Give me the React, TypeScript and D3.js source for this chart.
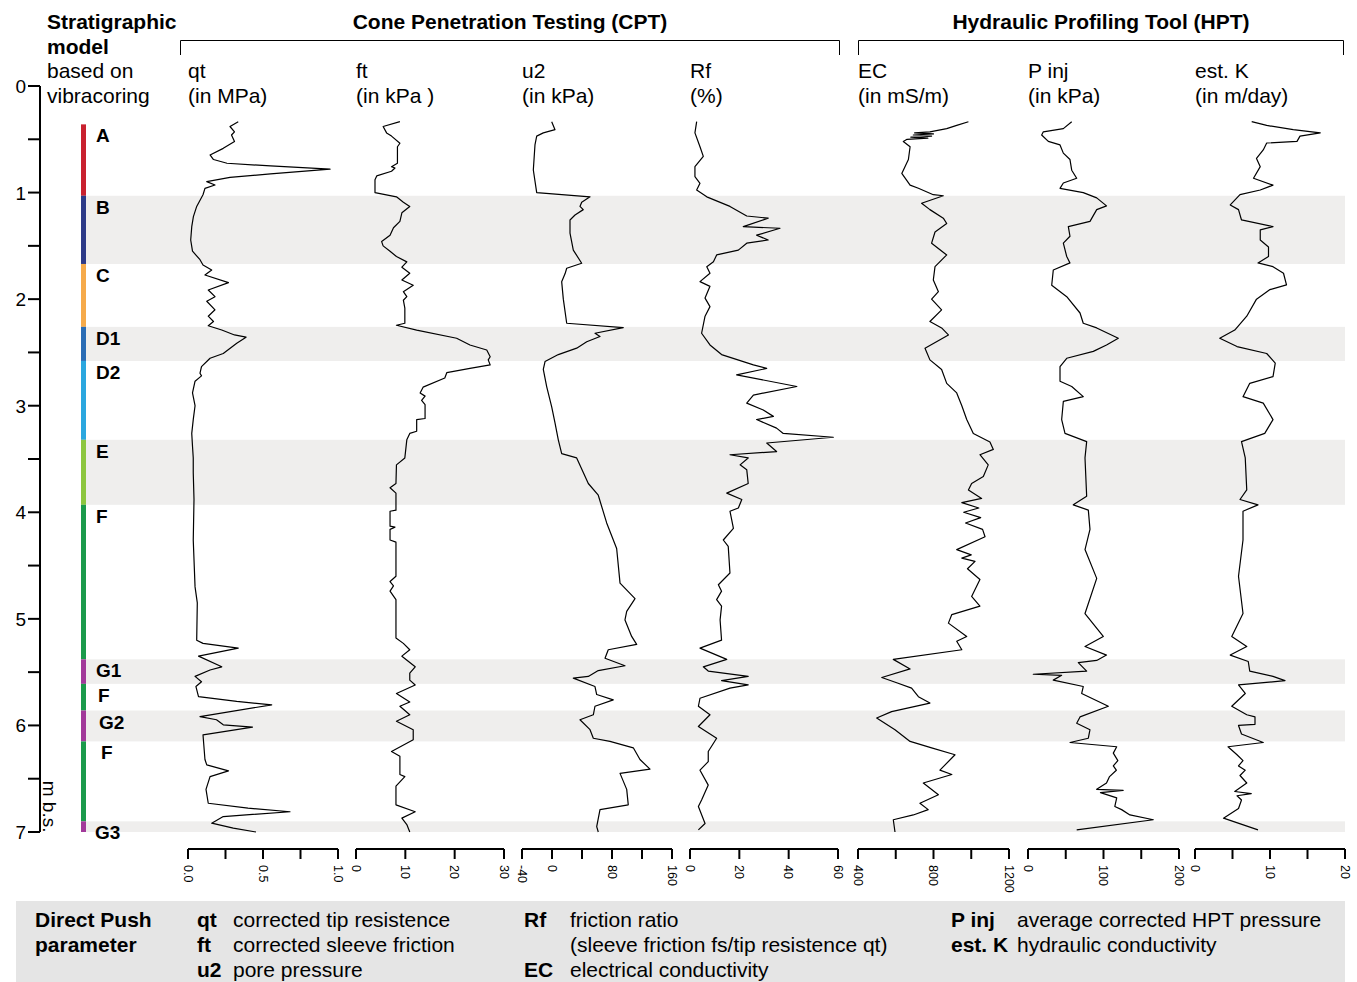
import React from 'react';
import * as d3 from 'd3';

const FONT = '"Liberation Sans", Arial, Helvetica, sans-serif';

// stratigraphic model (depth in m b.s.)
const unitNames = ['A', 'B', 'C', 'D1', 'D2', 'E', 'F', 'G1', 'F', 'G2', 'F', 'G3'];
const unitTops = [0.36, 1.03, 1.67, 2.26, 2.58, 3.32, 3.93, 5.38, 5.61, 5.86, 6.15, 6.9];
const unitBases = [1.03, 1.67, 2.26, 2.58, 3.32, 3.93, 5.38, 5.61, 5.86, 6.15, 6.9, 7.0];
const unitColors = ['#c9212f', '#2d3a88', '#f6aa4a', '#2a6cb5', '#2ba7df', '#8dc63f', '#1b9a4b', '#a2399a', '#1b9a4b', '#a2399a', '#1b9a4b', '#a2399a'];

// grey shaded layers
const bandTops = [1.03, 2.26, 3.32, 5.38, 5.86, 6.9];
const bandBases = [1.67, 2.58, 3.93, 5.61, 6.15, 7.0];

const depthTicks = [0, 0.5, 1, 1.5, 2, 2.5, 3, 3.5, 4, 4.5, 5, 5.5, 6, 6.5, 7];

// panels
const panelNames = ['qt', 'ft', 'u2', 'Rf', 'EC', 'P inj', 'est. K'];
const panelUnits = ['(in MPa)', '(in kPa )', '(in kPa)', '(%)', '(in mS/m)', '(in kPa)', '(in m/day)'];
const panelDomains = [[0, 1], [0, 30], [-40, 160], [0, 60], [400, 1200], [0, 200], [0, 20]];
const panelTicks = [
  [0, 0.25, 0.5, 0.75, 1],
  [0, 10, 20, 30],
  [-40, 0, 40, 80, 120, 160],
  [0, 20, 40, 60],
  [400, 600, 800, 1000, 1200],
  [0, 50, 100, 150, 200],
  [0, 5, 10, 15, 20],
];
const panelTickLabels = [
  ['0.0', '', '0.5', '', '1.0'],
  ['0', '10', '20', '30'],
  ['-40', '0', '', '80', '', '160'],
  ['0', '20', '40', '60'],
  ['400', '', '800', '', '1200'],
  ['0', '', '100', '', '200'],
  ['0', '', '10', '', '20'],
];

// [depth, value]
const qt = [
  [0.335, 0.335], [0.38, 0.28], [0.43, 0.31], [0.46, 0.29], [0.52, 0.31], [0.585, 0.235], [0.647, 0.147],
  [0.69, 0.17], [0.725, 0.26], [0.75, 0.55], [0.78, 0.947], [0.825, 0.55], [0.857, 0.28], [0.897, 0.125],
  [0.929, 0.18], [0.96, 0.113], [1.02, 0.1], [1.13, 0.058], [1.226, 0.036], [1.32, 0.025], [1.445, 0.018],
  [1.55, 0.03], [1.63, 0.08], [1.68, 0.1], [1.726, 0.158], [1.773, 0.113], [1.845, 0.27], [1.914, 0.135],
  [1.977, 0.18], [2.02, 0.125], [2.1, 0.18], [2.16, 0.135], [2.21, 0.17], [2.25, 0.135], [2.29, 0.225],
  [2.336, 0.31], [2.357, 0.387], [2.414, 0.325], [2.51, 0.235], [2.555, 0.147], [2.633, 0.09], [2.695, 0.08],
  [2.72, 0.09], [2.77, 0.047], [2.88, 0.03], [3.0, 0.047], [3.13, 0.035], [3.26, 0.025], [3.38, 0.03],
  [3.49, 0.035], [3.63, 0.035], [3.88, 0.04], [4.26, 0.035], [4.7, 0.047], [4.85, 0.062], [5.2, 0.058],
  [5.23, 0.1], [5.275, 0.335], [5.35, 0.07], [5.45, 0.225], [5.48, 0.147], [5.54, 0.047], [5.59, 0.09],
  [5.635, 0.053], [5.73, 0.07], [5.775, 0.325], [5.807, 0.558], [5.917, 0.08], [5.947, 0.19], [5.994, 0.235],
  [6.016, 0.43], [6.088, 0.1], [6.32, 0.113], [6.37, 0.125], [6.426, 0.27], [6.48, 0.147], [6.6, 0.12],
  [6.73, 0.135], [6.776, 0.4], [6.81, 0.68], [6.855, 0.235], [6.917, 0.158], [6.964, 0.302], [7.0, 0.453],
];

const ft = [
  [0.335, 8.9], [0.38, 5.5], [0.44, 6.2], [0.47, 7.2], [0.537, 8.9], [0.57, 8.4], [0.725, 8.4], [0.757, 7.2],
  [0.77, 7.9], [0.8, 7.2], [0.844, 4.2], [0.88, 3.85], [1.0, 3.85], [1.04, 8.2], [1.09, 9.6], [1.13, 10.9],
  [1.19, 9.3], [1.27, 8.9], [1.33, 7.6], [1.4, 6.9], [1.46, 5.2], [1.5, 5.5], [1.55, 6.9], [1.6, 8.2],
  [1.65, 10.3], [1.7, 9.3], [1.757, 10.9], [1.82, 9.3], [1.87, 11.6], [1.93, 9.6], [1.977, 10.3], [2.01, 9.6],
  [2.085, 9.9], [2.226, 9.9], [2.245, 8.2], [2.29, 12.3], [2.367, 20.4], [2.43, 23.1], [2.477, 26.5],
  [2.54, 27.2], [2.57, 26.8], [2.617, 27.2], [2.65, 23.1], [2.69, 18.4], [2.74, 18.0], [2.826, 13.6],
  [2.88, 13.0], [2.91, 14.0], [2.95, 13.3], [2.99, 14.0], [3.12, 14.0], [3.13, 12.3], [3.24, 12.3],
  [3.26, 10.9], [3.32, 10.3], [3.49, 9.9], [3.555, 8.2], [3.73, 8.1], [3.77, 6.9], [3.82, 8.1], [3.98, 8.1],
  [3.99, 6.9], [4.13, 6.9], [4.14, 7.9], [4.16, 6.9], [4.26, 6.9], [4.28, 8.1], [4.6, 8.1], [4.65, 6.9],
  [4.69, 7.6], [4.74, 6.9], [4.82, 8.1], [5.18, 8.1], [5.23, 9.6], [5.29, 10.9], [5.35, 9.3], [5.45, 12.0],
  [5.51, 10.9], [5.575, 10.9], [5.62, 12.0], [5.7, 8.2], [5.78, 10.9], [5.82, 8.9], [5.9, 10.9], [5.96, 8.2],
  [6.04, 11.6], [6.135, 11.6], [6.245, 7.2], [6.29, 8.9], [6.46, 8.9], [6.48, 9.9], [6.57, 8.1], [6.745, 8.1],
  [6.81, 12.0], [6.87, 9.3], [6.93, 10.3], [7.0, 10.9],
];

const u2 = [
  [0.335, -0.4], [0.41, 4], [0.44, -11.6], [0.47, -20.4], [0.553, -22.7], [0.788, -24.9], [1.0, -20.4],
  [1.04, 50.7], [1.09, 39.6], [1.13, 37.3], [1.16, 41.7], [1.21, 30.7], [1.257, 24], [1.38, 24], [1.54, 28.4],
  [1.663, 39.6], [1.71, 19.6], [1.76, 17.5], [1.836, 12.9], [2.0, 15.1], [2.226, 19.6], [2.267, 95],
  [2.32, 57.3], [2.35, 64], [2.4, 46.3], [2.46, 32.9], [2.52, 8.4], [2.586, -9.3], [2.66, -11.6],
  [2.82, -7.1], [3.01, -0.4], [3.16, 4], [3.32, 8.4], [3.45, 12.9], [3.49, 32.9], [3.73, 48.4],
  [3.84, 61.7], [4.1, 72.9], [4.34, 86.2], [4.665, 90.7], [4.81, 110.7], [4.93, 99.6], [5.01, 97.3],
  [5.165, 106.2], [5.24, 112.9], [5.29, 75], [5.37, 70.7], [5.44, 97.3], [5.485, 61.7], [5.54, 48.4],
  [5.556, 28.4], [5.635, 57.3], [5.71, 59.6], [5.76, 81.7], [5.82, 57.3], [5.9, 55.1], [5.947, 37.3],
  [6.04, 50.7], [6.12, 55.1], [6.15, 77.3], [6.21, 108.4], [6.32, 117.3], [6.41, 130.7], [6.45, 90.7],
  [6.6, 99.6], [6.745, 101.7], [6.79, 64], [6.95, 59.6], [7.0, 61.7],
];

const rf = [
  [0.335, 2.7], [0.44, 2.0], [0.57, 4.05], [0.66, 5.4], [0.757, 2.0], [0.85, 2.0], [0.913, 4.05], [0.976, 2.7],
  [1.04, 6.8], [1.13, 16.2], [1.22, 23], [1.24, 31.7], [1.32, 21.6], [1.335, 36.5], [1.4, 27], [1.445, 31.7],
  [1.475, 23], [1.54, 19.6], [1.585, 10.8], [1.65, 9.5], [1.695, 6.8], [1.757, 8.1], [1.836, 4.05],
  [1.88, 8.1], [1.99, 6.1], [2.07, 8.1], [2.16, 6.1], [2.32, 4.7], [2.43, 8.1], [2.52, 12.8], [2.617, 25.7],
  [2.65, 31.1], [2.71, 18.9], [2.82, 43.3], [2.9, 25.7], [2.976, 23], [3.04, 29.7], [3.1, 33.8], [3.13, 27],
  [3.21, 35.1], [3.26, 37.8], [3.296, 58.1], [3.35, 31.1], [3.43, 35.1], [3.46, 16.2], [3.49, 23.6],
  [3.555, 20.3], [3.6, 23], [3.73, 23.6], [3.82, 14.9], [3.88, 21], [3.96, 19.6], [3.99, 16.2], [4.15, 17.6],
  [4.26, 13.5], [4.32, 15.5], [4.57, 16.2], [4.68, 11.5], [4.74, 12.8], [4.82, 10.8], [4.88, 12.8],
  [5.01, 12.2], [5.2, 12.8], [5.275, 4.05], [5.38, 14.9], [5.45, 5.4], [5.49, 7.4], [5.54, 23.6], [5.58, 12.8],
  [5.62, 23.6], [5.65, 16.2], [5.745, 4.05], [5.82, 3.4], [5.9, 8.1], [6.01, 3.4], [6.12, 10.8], [6.245, 7.4],
  [6.34, 7.4], [6.42, 4.05], [6.56, 7.4], [6.7, 4.7], [6.76, 3.4], [6.92, 6.1], [6.98, 3.4],
];

const ec = [
  [0.335, 985], [0.37, 923], [0.4, 870], [0.43, 781], [0.44, 700], [0.45, 800], [0.46, 693], [0.47, 790],
  [0.48, 680], [0.49, 770], [0.5, 660], [0.52, 640], [0.57, 676], [0.69, 667], [0.82, 632], [0.93, 676],
  [0.96, 720], [1.02, 799], [1.03, 852], [1.1, 737], [1.16, 781], [1.24, 852], [1.29, 870], [1.37, 808],
  [1.475, 790], [1.585, 870], [1.695, 808], [1.82, 799], [1.93, 826], [2.0, 790], [2.1, 843], [2.21, 781],
  [2.27, 843], [2.336, 879], [2.46, 755], [2.57, 781], [2.66, 843], [2.79, 870], [2.88, 923], [3.0, 950],
  [3.13, 976], [3.26, 1011], [3.34, 1099], [3.41, 1117], [3.46, 1046], [3.555, 1090], [3.665, 1064],
  [3.73, 1002], [3.79, 985], [3.87, 1055], [3.91, 950], [3.96, 1040], [4.0, 960], [4.05, 1050], [4.1, 970],
  [4.16, 1060], [4.23, 1073], [4.35, 923], [4.4, 1000], [4.43, 950], [4.46, 1020], [4.53, 980], [4.63, 1046],
  [4.79, 1002], [4.88, 1046], [4.96, 897], [5.04, 879], [5.165, 976], [5.21, 923], [5.29, 950], [5.38, 587],
  [5.47, 676], [5.55, 526], [5.6, 605], [5.65, 684], [5.73, 720], [5.79, 781], [5.87, 578], [5.93, 499],
  [6.04, 596], [6.15, 676], [6.21, 790], [6.275, 914], [6.42, 834], [6.46, 897], [6.54, 746], [6.65, 826],
  [6.73, 728], [6.79, 772], [6.84, 693], [6.885, 587], [7.0, 596],
];

const pinj = [
  [0.335, 57.9], [0.4, 46.8], [0.43, 20.3], [0.46, 18.1], [0.52, 26.9], [0.553, 42.4], [0.63, 46.8],
  [0.69, 55.6], [0.79, 57.9], [0.866, 64.5], [0.91, 46.8], [0.96, 42.4], [1.0, 73.2], [1.05, 91],
  [1.125, 104], [1.16, 91], [1.27, 82.1], [1.32, 53.4], [1.41, 55.6], [1.475, 46.8], [1.6, 51.3],
  [1.66, 55.6], [1.726, 33.5], [1.87, 31.4], [1.977, 51.3], [2.13, 68.9], [2.226, 73.2], [2.27, 91],
  [2.367, 119.6], [2.43, 104], [2.49, 86.5], [2.555, 51.3], [2.633, 42.4], [2.77, 42.4], [2.82, 57.9],
  [2.915, 73.2], [2.96, 46.8], [3.13, 44.6], [3.26, 49], [3.337, 77.7], [3.49, 75.5], [3.85, 77.7],
  [3.93, 60], [3.98, 79.9], [4.16, 82.1], [4.35, 75.5], [4.62, 91], [4.95, 75.5], [5.165, 99.7],
  [5.26, 75.5], [5.34, 104], [5.39, 91], [5.41, 66.6], [5.49, 77.7], [5.52, 7], [5.53, 44.6], [5.575, 33.5],
  [5.635, 73.2], [5.7, 71.1], [5.82, 106.4], [5.92, 68.9], [5.98, 64.5], [6.04, 82.1], [6.12, 79.9],
  [6.16, 55.6], [6.2, 117.5], [6.26, 113], [6.33, 119], [6.38, 113], [6.42, 117], [6.48, 108], [6.54, 104],
  [6.6, 91], [6.61, 126], [6.63, 96], [6.68, 117.5], [6.76, 115], [6.79, 124], [6.84, 135], [6.885, 166],
  [6.98, 64.5],
];

const estK = [
  [0.335, 7.56], [0.37, 9.56], [0.41, 13.1], [0.44, 16.7], [0.47, 14], [0.52, 13.6], [0.535, 9.56], [0.6, 9.1],
  [0.68, 8.2], [0.757, 8.7], [0.866, 7.8], [0.93, 10.4], [0.976, 8.7], [1.02, 6.0], [1.116, 4.7], [1.16, 5.8],
  [1.257, 6.2], [1.32, 10.4], [1.35, 8.7], [1.445, 8.7], [1.51, 9.8], [1.6, 9.8], [1.66, 8.4], [1.695, 10.4],
  [1.757, 11.8], [1.866, 12.2], [1.91, 10], [2.0, 8.2], [2.16, 6.9], [2.29, 5.3], [2.367, 3.3], [2.445, 5.6],
  [2.51, 9.56], [2.6, 10.7], [2.727, 10.4], [2.79, 7.3], [2.915, 6.4], [2.976, 9.1], [3.13, 10.4],
  [3.26, 9.3], [3.337, 6.2], [3.49, 6.7], [3.79, 6.9], [3.88, 6.0], [3.93, 8.4], [3.99, 6.4], [4.26, 6.4],
  [4.6, 5.8], [4.95, 6.4], [5.165, 4.9], [5.26, 6.9], [5.34, 4.7], [5.4, 7.1], [5.49, 7.3], [5.54, 10.4],
  [5.58, 12.0], [5.62, 5.8], [5.7, 6.7], [5.82, 4.9], [5.9, 6.9], [5.92, 8.0], [5.99, 8.0], [6.0, 5.8],
  [6.08, 6.2], [6.16, 9.1], [6.2, 4.4], [6.275, 5.6], [6.33, 6.4], [6.38, 5.8], [6.42, 6.7], [6.47, 6.0],
  [6.54, 6.9], [6.62, 5.3], [6.64, 7.5], [6.66, 5.6], [6.7, 6.2], [6.78, 5.8], [6.87, 3.8], [6.98, 8.4],
];

const series = [qt, ft, u2, rf, ec, pinj, estK];

// layout
const panelLeft = [188, 356, 522, 690, 858, 1028, 1195];
const panelRight = [338, 504, 672, 838, 1009, 1179, 1345];
const unitLabelX = [96, 96, 96, 96, 96, 96, 96, 96, 98, 99, 101, 95];
const axisY = 849;

const legendCols = [
  { x: 197, tx: 233, rows: [['qt', 'corrected tip resistence'], ['ft', 'corrected sleeve friction'], ['u2', 'pore pressure']] },
  { x: 524, tx: 570, rows: [['Rf', 'friction ratio'], ['', '(sleeve friction fs/tip resistence qt)'], ['EC', 'electrical conductivity']] },
  { x: 951, tx: 1017, rows: [['P inj', 'average corrected HPT pressure'], ['est. K', 'hydraulic conductivity']] },
];

export default function App() {
  const y = d3.scaleLinear().domain([0, 7]).range([86, 832]);
  const fs = 21;

  return (
    <svg width={1357} height={982} style={{ position: 'absolute', left: 0, top: 0, background: '#fff' }}
      fontFamily={FONT}>
      {/* shaded layers */}
      {bandTops.map((t, i) => (
        <rect key={'b' + i} x={86} y={y(t)} width={1345 - 86} height={y(bandBases[i]) - y(t)} fill="#efeeed" />
      ))}

      {/* headers */}
      <text x={47} y={29} fontSize={fs} fontWeight="bold">Stratigraphic</text>
      <text x={47} y={54} fontSize={fs} fontWeight="bold">model</text>
      <text x={47} y={78} fontSize={fs}>based on</text>
      <text x={47} y={103} fontSize={fs}>vibracoring</text>

      <text x={510} y={29} fontSize={fs} fontWeight="bold" textAnchor="middle">Cone Penetration Testing (CPT)</text>
      <path d="M180.5,55V40.5H839.5V55" fill="none" stroke="#000" strokeWidth={1} />
      <text x={1101} y={29} fontSize={fs} fontWeight="bold" textAnchor="middle">Hydraulic Profiling Tool (HPT)</text>
      <path d="M858.5,55V40.5H1343.5V55" fill="none" stroke="#000" strokeWidth={1} />

      {/* depth axis */}
      <line x1={40} x2={40} y1={y(0)} y2={y(7)} stroke="#000" strokeWidth={2} />
      {depthTicks.map(t => (
        <g key={'dt' + t}>
          <line x1={28} x2={40} y1={y(t)} y2={y(t)} stroke="#000" strokeWidth={2} />
          {Number.isInteger(t) && (
            <text x={26} y={y(t) + 7} fontSize={19} textAnchor="end">{t}</text>
          )}
        </g>
      ))}
      <text transform={`translate(43,${y(6.5) + 2}) rotate(90)`} fontSize={19}>m b.s.</text>

      {/* stratigraphic column */}
      {unitNames.map((n, i) => (
        <g key={'u' + i}>
          <rect x={81} y={y(unitTops[i])} width={5} height={y(unitBases[i]) - y(unitTops[i])} fill={unitColors[i]} />
          <text x={unitLabelX[i]} y={y(unitTops[i]) + 18} fontSize={19} fontWeight="bold">{n}</text>
        </g>
      ))}

      {/* panels */}
      {panelNames.map((name, i) => {
        const x = d3.scaleLinear().domain(panelDomains[i]).range([panelLeft[i], panelRight[i]]);
        const line = d3.line<number[]>().x(d => x(d[1])).y(d => y(d[0]));
        return (
          <g key={'p' + i}>
            <text x={panelLeft[i]} y={78} fontSize={fs}>{name}</text>
            <text x={panelLeft[i]} y={103} fontSize={fs}>{panelUnits[i]}</text>
            <path d={line(series[i]) || ''} fill="none" stroke="#000" strokeWidth={1.2} strokeLinejoin="round" />
            <line x1={x.range()[0]} x2={x.range()[1]} y1={axisY} y2={axisY} stroke="#000" strokeWidth={2} />
            {panelTicks[i].map((t, j) => (
              <g key={'t' + j}>
                <line x1={x(t)} x2={x(t)} y1={axisY} y2={axisY + 10} stroke="#000" strokeWidth={2} />
                {panelTickLabels[i][j] && (
                  <text transform={`translate(${x(t)},${axisY + 16}) rotate(90)`} fontSize={12.5} dy="0.35em">
                    {panelTickLabels[i][j]}
                  </text>
                )}
              </g>
            ))}
          </g>
        );
      })}

      {/* legend */}
      <rect x={16} y={901} width={1329} height={81} fill="#e5e5e5" />
      <text x={35} y={927} fontSize={fs} fontWeight="bold">Direct Push</text>
      <text x={35} y={952} fontSize={fs} fontWeight="bold">parameter</text>
      {legendCols.map((c, i) => (
        <g key={'lc' + i}>
          {c.rows.map((r, j) => (
            <g key={j}>
              <text x={c.x} y={927 + j * 25} fontSize={fs} fontWeight="bold">{r[0]}</text>
              <text x={c.tx} y={927 + j * 25} fontSize={fs}>{r[1]}</text>
            </g>
          ))}
        </g>
      ))}
    </svg>
  );
}
